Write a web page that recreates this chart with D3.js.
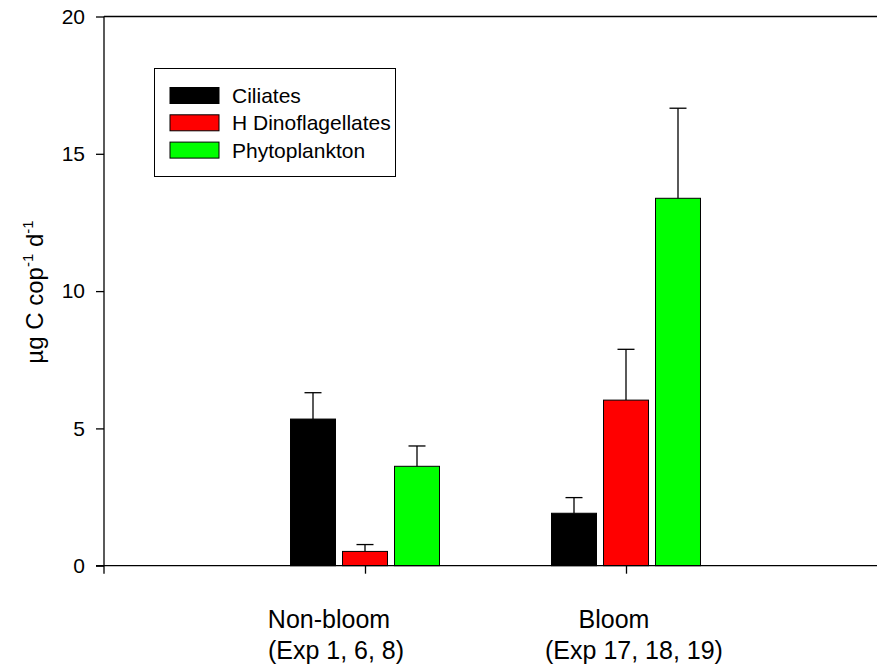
<!DOCTYPE html>
<html>
<head>
<meta charset="utf-8">
<script src="https://cdn.jsdelivr.net/npm/d3@7"></script>
<style>
  html, body { margin: 0; padding: 0; background: #fff; }
  svg { display: block; font-family: Arial, "Liberation Sans", sans-serif; }
</style>
</head>
<body>
<svg id="chart" width="877" height="666"></svg>
<script>
// ---- data ----
const categories = ["Non-bloom", "Bloom"];
const categorySub = ["(Exp 1, 6, 8)", "(Exp 17, 18, 19)"];
const seriesNames = ["Ciliates", "H Dinoflagellates", "Phytoplankton"];
const seriesColors = ["#000000", "#ff0000", "#00ff00"];
const ciliates = [5.34, 1.91];
const ciliatesErr = [0.96, 0.57];
const dinoflagellates = [0.52, 6.03];
const dinoflagellatesErr = [0.25, 1.85];
const phytoplankton = [3.62, 13.38];
const phytoplanktonErr = [0.74, 3.28];
const yTicks = [0, 5, 10, 15, 20];

const values = [ciliates, dinoflagellates, phytoplankton];
const errors = [ciliatesErr, dinoflagellatesErr, phytoplanktonErr];

// ---- layout ----
const svg = d3.select("#chart");
const pLeft = 104, pRight = 887, pTop = 16.5, pBottom = 565.7;

const y = d3.scaleLinear().domain([0, 20]).range([pBottom, pTop]);
const x = d3.scaleLinear().domain([0, 3]).range([pLeft, pRight]);
const groupWidth = 156;
const inner = d3.scaleBand().domain(seriesNames)
  .range([-groupWidth / 2, groupWidth / 2]).paddingInner(0.135).paddingOuter(0.0675);

// top frame line
svg.append("line").attr("x1", pLeft).attr("x2", 877).attr("y1", pTop).attr("y2", pTop)
  .attr("stroke", "#000").attr("stroke-width", 1.3);

// bars
const rows = [];
categories.forEach((c, ci) => {
  seriesNames.forEach((s, si) => {
    rows.push({ci, si, v: values[si][ci], e: errors[si][ci]});
  });
});

const g = svg.append("g");
g.selectAll("rect.bar").data(rows).enter().append("rect")
  .attr("class", "bar")
  .attr("x", d => x(d.ci + 1) + inner(seriesNames[d.si]))
  .attr("width", inner.bandwidth())
  .attr("y", d => y(d.v))
  .attr("height", d => y(0) - y(d.v))
  .attr("fill", d => seriesColors[d.si])
  .attr("stroke", "#000").attr("stroke-width", 1);

// error bars
const capW = 17;
const cx = d => x(d.ci + 1) + inner(seriesNames[d.si]) + inner.bandwidth() / 2;
g.selectAll("line.err").data(rows).enter().append("line")
  .attr("x1", cx).attr("x2", cx)
  .attr("y1", d => y(d.v)).attr("y2", d => y(d.v + d.e))
  .attr("stroke", "#000").attr("stroke-width", 1.3);
g.selectAll("line.cap").data(rows).enter().append("line")
  .attr("x1", d => cx(d) - capW / 2).attr("x2", d => cx(d) + capW / 2)
  .attr("y1", d => y(d.v + d.e)).attr("y2", d => y(d.v + d.e))
  .attr("stroke", "#000").attr("stroke-width", 1.3);

// y axis
const yAxis = d3.axisLeft(y).tickValues(yTicks).tickSize(8).tickPadding(11).tickFormat(d3.format("d"));
const ya = svg.append("g").attr("transform", `translate(${pLeft},0)`).call(yAxis);
ya.select(".domain").remove();
ya.selectAll(".tick line").attr("stroke-width", 1.3);
ya.selectAll("text").attr("font-size", 21).attr("font-family", "Arial, 'Liberation Sans', sans-serif").attr("fill", "#000");
svg.append("line").attr("x1", pLeft).attr("x2", pLeft).attr("y1", pTop).attr("y2", pBottom + 8)
  .attr("stroke", "#000").attr("stroke-width", 1.3);

// x axis
const xAxis = d3.axisBottom(x).tickValues([1, 2]).tickSize(8).tickFormat("");
const xa = svg.append("g").attr("transform", `translate(0,${pBottom})`).call(xAxis);
xa.select(".domain").remove();
xa.selectAll(".tick line").attr("stroke-width", 1.3);
svg.append("line").attr("x1", pLeft - 8).attr("x2", 877).attr("y1", pBottom).attr("y2", pBottom)
  .attr("stroke", "#000").attr("stroke-width", 1.3);

// category labels
const labelOffsets = [[-36, -29], [-12, 8]];
categories.forEach((c, i) => {
  svg.append("text").attr("x", x(i + 1) + labelOffsets[i][0]).attr("y", 628)
    .attr("text-anchor", "middle").attr("font-size", 25).text(c);
  svg.append("text").attr("x", x(i + 1) + labelOffsets[i][1]).attr("y", 659)
    .attr("text-anchor", "middle").attr("font-size", 25).text(categorySub[i]);
});

// y label
const yl = svg.append("text").attr("transform", "translate(43,292) rotate(-90)")
  .attr("text-anchor", "middle").attr("font-size", 24);
yl.append("tspan").text("µg C cop");
yl.append("tspan").attr("font-size", 15).attr("dy", -10).text("-1");
yl.append("tspan").attr("dy", 10).text(" d");
yl.append("tspan").attr("font-size", 15).attr("dy", -10).text("-1");

// legend
const lg = svg.append("g");
lg.append("rect").attr("x", 154.5).attr("y", 68.5).attr("width", 241).attr("height", 108)
  .attr("fill", "#fff").attr("stroke", "#000").attr("stroke-width", 1);
seriesNames.forEach((s, i) => {
  const cyy = 95.5 + i * 27.3;
  lg.append("rect").attr("x", 170).attr("y", cyy - 8).attr("width", 49).attr("height", 16)
    .attr("fill", seriesColors[i]).attr("stroke", "#000").attr("stroke-width", 1);
  lg.append("text").attr("x", 232).attr("y", cyy + 7.5).attr("font-size", 21).text(s);
});
</script>
</body>
</html>
